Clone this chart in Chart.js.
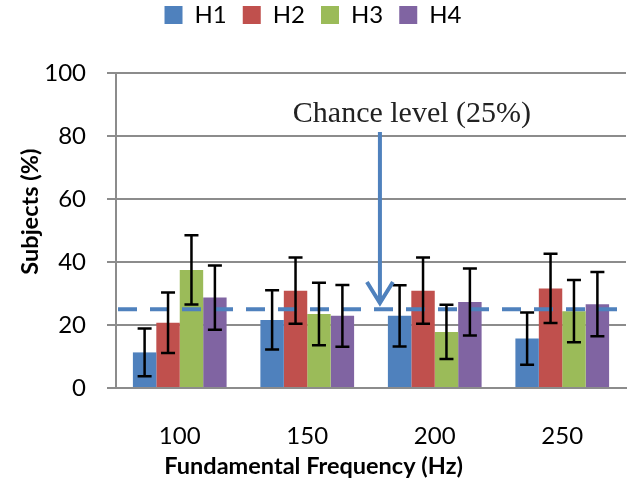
<!DOCTYPE html>
<html>
<head>
<meta charset="utf-8">
<script src="https://cdn.jsdelivr.net/npm/chart.js@4.4.1/dist/chart.umd.min.js"></script>
<style>
  html, body { margin: 0; padding: 0; background: #fff; }
  #wrap { width: 630px; height: 496px; position: relative; }
</style>
</head>
<body>
<div id="wrap"><canvas id="myChart"></canvas></div>
<script>
// data
const categories = ['100', '150', '200', '250'];
const seriesNames = ['H1', 'H2', 'H3', 'H4'];
const h1 = [11.3, 21.6, 22.9, 15.7];
const h2 = [20.7, 30.9, 30.9, 31.6];
const h3 = [37.5, 23.5, 17.8, 24.4];
const h4 = [28.7, 22.9, 27.3, 26.6];
const h1Err = [7.6, 9.4, 9.7, 8.3];
const h2Err = [9.6, 10.5, 10.5, 11.0];
const h3Err = [11.0, 9.9, 8.6, 9.9];
const h4Err = [10.2, 9.8, 10.6, 10.2];
const chanceLevel = 25;
const chanceLabel = 'Chance level (25%)';
const yTicks = [0, 20, 40, 60, 80, 100];
const xTitle = 'Fundamental Frequency (Hz)';
const yTitle = 'Subjects (%)';

const colors = ['#4F81BD', '#C0504D', '#9BBB59', '#8064A2'];
const errors = [h1Err, h2Err, h3Err, h4Err];
const gridColor = '#8C8C8C';

// legend gap below the boxes
const legendMargin = {
    id: 'legendMargin',
    beforeInit(chart) {
        const fit = chart.legend.fit;
        chart.legend.fit = function () {
            fit.bind(chart.legend)();
            this.height += 36;
        };
    }
};

// dashed chance line, error bars, arrow + label, axis titles
const overlays = {
    id: 'overlays',
    afterDatasetsDraw(chart) {
        const ctx = chart.ctx;
        const x = chart.scales.x;
        const y = chart.scales.y;
        const area = chart.chartArea;

        // chance level
        ctx.save();
        ctx.strokeStyle = '#4F81BD';
        ctx.lineWidth = 4;
        ctx.setLineDash([19, 13]);
        const cy = y.getPixelForValue(chanceLevel);
        ctx.beginPath();
        ctx.moveTo(area.left + 2, cy);
        ctx.lineTo(area.right, cy);
        ctx.stroke();
        ctx.restore();

        // error bars
        ctx.save();
        ctx.strokeStyle = '#000';
        ctx.lineWidth = 2.5;
        chart.data.datasets.forEach((ds, i) => {
            const meta = chart.getDatasetMeta(i);
            meta.data.forEach((bar, j) => {
                const v = ds.data[j];
                const e = errors[i][j];
                const top = y.getPixelForValue(v + e);
                const bot = y.getPixelForValue(v - e);
                ctx.beginPath();
                ctx.moveTo(bar.x, top);
                ctx.lineTo(bar.x, bot);
                ctx.moveTo(bar.x - 7, top);
                ctx.lineTo(bar.x + 7, top);
                ctx.moveTo(bar.x - 7, bot);
                ctx.lineTo(bar.x + 7, bot);
                ctx.stroke();
            });
        });
        ctx.restore();

        // arrow from label down to the line
        const ax = x.getPixelForValue(1) + 0.57 * (x.getPixelForValue(2) - x.getPixelForValue(1));
        const aTop = y.getPixelForValue(81.3);
        const aTip = y.getPixelForValue(27);
        ctx.save();
        ctx.strokeStyle = '#4F81BD';
        ctx.lineWidth = 4;
        ctx.beginPath();
        ctx.moveTo(ax, aTop);
        ctx.lineTo(ax, aTip - 2);
        ctx.moveTo(ax - 13, aTip - 21);
        ctx.lineTo(ax, aTip);
        ctx.lineTo(ax + 13, aTip - 21);
        ctx.stroke();

        ctx.fillStyle = '#222';
        ctx.font = '30px "Liberation Serif"';
        ctx.textAlign = 'center';
        ctx.textBaseline = 'alphabetic';
        ctx.fillText(chanceLabel, ax + 32, y.getPixelForValue(84.5));
        ctx.restore();

        // axis titles
        ctx.save();
        ctx.fillStyle = '#000';
        ctx.font = 'bold 23.5px Lato';
        ctx.textAlign = 'center';
        ctx.textBaseline = 'middle';
        ctx.fillText(xTitle, x.getPixelForValue(1.05), 466);
        ctx.translate(30, y.getPixelForValue(56));
        ctx.rotate(-Math.PI / 2);
        ctx.fillText(yTitle, 0, 0);
        ctx.restore();
    }
};

const data = {
    labels: categories,
    datasets: [h1, h2, h3, h4].map((vals, i) => ({
        label: seriesNames[i],
        data: vals,
        backgroundColor: colors[i],
        borderWidth: 0,
        barPercentage: 1,
        categoryPercentage: 0.735
    }))
};

const config = {
    type: 'bar',
    data,
    options: {
        responsive: true,
        maintainAspectRatio: false,
        animation: false,
        layout: { padding: { left: 0, right: 4, top: -13, bottom: 0 } },
        plugins: {
            legend: {
                position: 'top',
                labels: {
                    boxWidth: 18,
                    boxHeight: 18,
                    padding: 16,
                    color: '#000',
                    font: { family: 'Lato', size: 24 }
                }
            },
            tooltip: { enabled: false }
        },
        scales: {
            x: {
                grid: { display: false, drawTicks: false },
                border: { color: gridColor, width: 2 },
                ticks: { color: '#000', padding: 34, font: { family: 'Lato', size: 24 } },
                afterFit(scale) { scale.height = 108; }
            },
            y: {
                min: 0,
                max: 100,
                afterBuildTicks(scale) { scale.ticks = yTicks.map(v => ({ value: v })); },
                grid: { color: gridColor, lineWidth: 2, tickLength: 9, drawTicks: true },
                border: { color: gridColor, width: 2 },
                ticks: { color: '#000', padding: 21, font: { family: 'Lato', size: 24 } },
                afterFit(scale) { scale.width = 116; }
            }
        }
    },
    plugins: [legendMargin, overlays]
};

const myChart = new Chart(document.getElementById('myChart'), config);
</script>
</body>
</html>
